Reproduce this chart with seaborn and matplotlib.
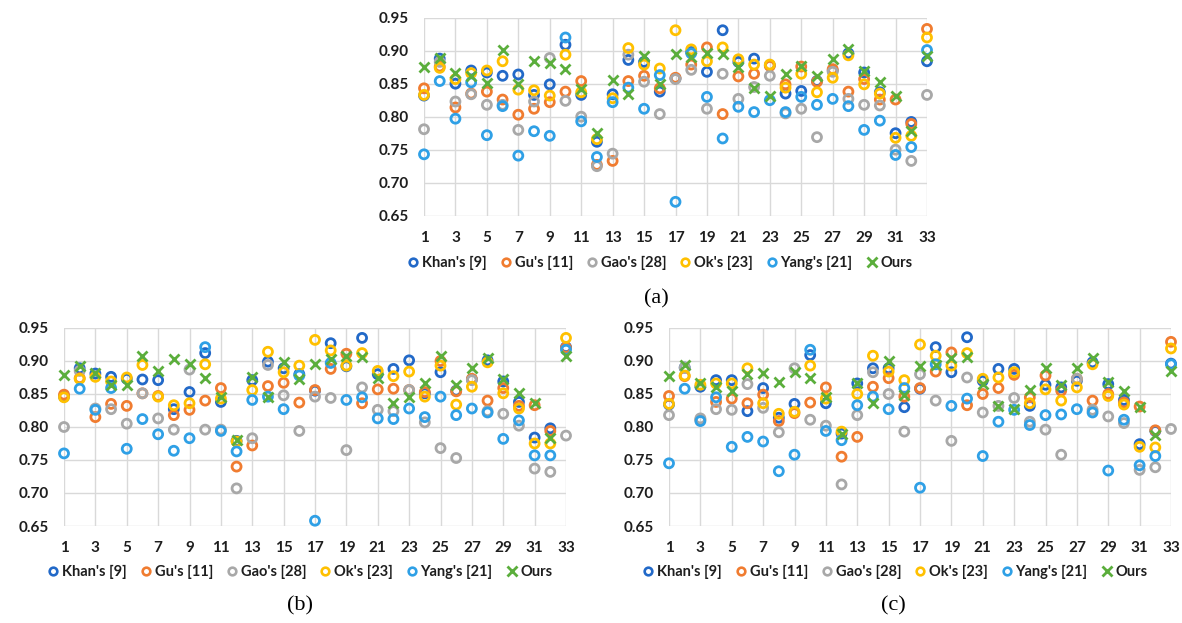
import matplotlib
matplotlib.use('Agg')

import numpy as np
import pandas as pd
import matplotlib.pyplot as plt
import seaborn as sns
from matplotlib.lines import Line2D
from matplotlib.ticker import FormatStrFormatter

images = list(range(1, 34))
methods = ["Khan's [9]", "Gu's [11]", "Gao's [28]", "Ok's [23]", "Yang's [21]", "Ours"]
colors = ['#2269C8', '#F07C30', '#A8A8A8', '#FFC000', '#2FA0E6', '#5BAE3C']

# panel (a)
khan_a = [0.832, 0.888, 0.850, 0.870, 0.867, 0.862, 0.864, 0.833, 0.849, 0.909, 0.833, 0.762, 0.834, 0.886, 0.883, 0.838, 0.858,
          0.898, 0.868, 0.931, 0.883, 0.888, 0.878, 0.835, 0.839, 0.854, 0.870, 0.896, 0.867, 0.837, 0.775, 0.792, 0.884]
gu_a = [0.843, 0.876, 0.814, 0.835, 0.838, 0.826, 0.803, 0.812, 0.822, 0.838, 0.854, 0.727, 0.733, 0.854, 0.862, 0.843, 0.859,
        0.879, 0.905, 0.804, 0.861, 0.865, 0.877, 0.849, 0.876, 0.853, 0.872, 0.838, 0.857, 0.826, 0.826, 0.789, 0.933]
gao_a = [0.781, 0.883, 0.823, 0.834, 0.818, 0.818, 0.780, 0.823, 0.889, 0.824, 0.800, 0.725, 0.744, 0.894, 0.853, 0.804, 0.857,
         0.871, 0.812, 0.865, 0.827, 0.845, 0.862, 0.805, 0.812, 0.769, 0.868, 0.827, 0.818, 0.817, 0.750, 0.733, 0.833]
ok_a = [0.833, 0.874, 0.857, 0.866, 0.870, 0.884, 0.841, 0.840, 0.832, 0.894, 0.837, 0.766, 0.828, 0.904, 0.879, 0.873, 0.931,
        0.902, 0.884, 0.905, 0.887, 0.879, 0.879, 0.844, 0.865, 0.837, 0.859, 0.893, 0.849, 0.835, 0.768, 0.771, 0.920]
yang_a = [0.743, 0.854, 0.797, 0.852, 0.772, 0.816, 0.741, 0.778, 0.771, 0.920, 0.793, 0.739, 0.822, 0.844, 0.812, 0.863, 0.671,
          0.896, 0.830, 0.767, 0.815, 0.807, 0.825, 0.807, 0.830, 0.818, 0.827, 0.816, 0.780, 0.794, 0.742, 0.754, 0.901]
ours_a = [0.875, 0.889, 0.866, 0.861, 0.851, 0.901, 0.850, 0.885, 0.882, 0.873, 0.842, 0.776, 0.856, 0.834, 0.892, 0.849, 0.895,
          0.891, 0.896, 0.895, 0.875, 0.843, 0.832, 0.864, 0.877, 0.862, 0.888, 0.903, 0.870, 0.853, 0.832, 0.778, 0.892]

# panel (b)
khan_b = [0.846, 0.889, 0.881, 0.876, 0.873, 0.872, 0.871, 0.827, 0.853, 0.912, 0.838, 0.779, 0.871, 0.899, 0.889, 0.880, 0.855,
          0.927, 0.892, 0.935, 0.880, 0.888, 0.901, 0.851, 0.883, 0.855, 0.872, 0.901, 0.869, 0.838, 0.784, 0.798, 0.921]
gu_b = [0.849, 0.874, 0.815, 0.835, 0.832, 0.851, 0.847, 0.818, 0.826, 0.840, 0.859, 0.740, 0.772, 0.862, 0.867, 0.837, 0.856,
        0.888, 0.911, 0.836, 0.857, 0.858, 0.856, 0.853, 0.900, 0.854, 0.873, 0.840, 0.859, 0.832, 0.833, 0.794, 0.920]
gao_b = [0.800, 0.885, 0.828, 0.827, 0.805, 0.851, 0.813, 0.796, 0.887, 0.796, 0.796, 0.707, 0.783, 0.894, 0.848, 0.794, 0.846,
         0.844, 0.765, 0.860, 0.826, 0.824, 0.856, 0.807, 0.768, 0.753, 0.871, 0.824, 0.820, 0.802, 0.737, 0.732, 0.787]
ok_b = [0.845, 0.873, 0.876, 0.869, 0.875, 0.894, 0.846, 0.833, 0.836, 0.895, 0.843, 0.778, 0.856, 0.914, 0.883, 0.893, 0.932,
        0.916, 0.893, 0.912, 0.885, 0.877, 0.884, 0.846, 0.893, 0.834, 0.861, 0.898, 0.851, 0.828, 0.775, 0.775, 0.935]
yang_b = [0.760, 0.858, 0.826, 0.859, 0.767, 0.812, 0.789, 0.764, 0.783, 0.921, 0.794, 0.763, 0.841, 0.846, 0.827, 0.878, 0.658,
          0.897, 0.841, 0.845, 0.813, 0.812, 0.828, 0.815, 0.846, 0.818, 0.828, 0.822, 0.782, 0.810, 0.757, 0.757, 0.917]
ours_b = [0.879, 0.893, 0.882, 0.864, 0.864, 0.908, 0.885, 0.903, 0.895, 0.875, 0.846, 0.780, 0.876, 0.846, 0.898, 0.873, 0.896,
          0.903, 0.907, 0.906, 0.875, 0.836, 0.845, 0.867, 0.908, 0.863, 0.889, 0.905, 0.872, 0.852, 0.837, 0.784, 0.907]

# panel (c)
khan_c = [0.834, 0.890, 0.861, 0.871, 0.871, 0.824, 0.859, 0.814, 0.835, 0.909, 0.836, 0.790, 0.866, 0.889, 0.889, 0.830, 0.858,
          0.921, 0.883, 0.936, 0.870, 0.888, 0.888, 0.832, 0.864, 0.860, 0.870, 0.898, 0.865, 0.841, 0.774, 0.794, 0.896]
gu_c = [0.847, 0.877, 0.811, 0.838, 0.843, 0.836, 0.849, 0.809, 0.821, 0.837, 0.860, 0.755, 0.785, 0.861, 0.874, 0.846, 0.859,
        0.884, 0.913, 0.833, 0.850, 0.859, 0.879, 0.845, 0.878, 0.855, 0.873, 0.840, 0.850, 0.837, 0.831, 0.795, 0.929]
gao_c = [0.818, 0.890, 0.813, 0.827, 0.826, 0.865, 0.829, 0.792, 0.889, 0.811, 0.802, 0.713, 0.818, 0.883, 0.850, 0.793, 0.880,
         0.840, 0.779, 0.875, 0.822, 0.832, 0.844, 0.808, 0.796, 0.758, 0.873, 0.826, 0.816, 0.806, 0.735, 0.739, 0.797]
ok_c = [0.835, 0.878, 0.864, 0.866, 0.866, 0.889, 0.836, 0.820, 0.823, 0.893, 0.843, 0.793, 0.850, 0.908, 0.884, 0.871, 0.925,
        0.908, 0.893, 0.912, 0.873, 0.875, 0.883, 0.836, 0.857, 0.840, 0.860, 0.895, 0.847, 0.834, 0.770, 0.769, 0.919]
yang_c = [0.745, 0.858, 0.809, 0.845, 0.770, 0.785, 0.778, 0.733, 0.758, 0.917, 0.794, 0.780, 0.833, 0.846, 0.827, 0.859, 0.708,
          0.895, 0.832, 0.843, 0.756, 0.808, 0.826, 0.803, 0.818, 0.819, 0.827, 0.822, 0.734, 0.811, 0.742, 0.756, 0.895]
ours_c = [0.877, 0.894, 0.867, 0.861, 0.855, 0.880, 0.882, 0.868, 0.883, 0.874, 0.845, 0.790, 0.866, 0.836, 0.900, 0.849, 0.892,
          0.894, 0.904, 0.906, 0.865, 0.832, 0.827, 0.856, 0.890, 0.863, 0.890, 0.905, 0.868, 0.854, 0.831, 0.788, 0.885]

panels = {
    '(a)': [khan_a, gu_a, gao_a, ok_a, yang_a, ours_a],
    '(b)': [khan_b, gu_b, gao_b, ok_b, yang_b, ours_b],
    '(c)': [khan_c, gu_c, gao_c, ok_c, yang_c, ours_c],
}

sns.set_style('white')
plt.rcParams['font.family'] = ['Lato', 'DejaVu Sans']
plt.rcParams['font.weight'] = 'bold'

W, H = 1182, 623
fig = plt.figure(figsize=(W / 100, H / 100), dpi=100)


def add_ax(x0, x1, y0, y1):
    # pixel box -> figure fraction
    return fig.add_axes([x0 / W, 1 - y1 / H, (x1 - x0) / W, (y1 - y0) / H])


def draw_panel(ax, series, tag, legend_x, legend_y, tag_x, tag_y):
    df = pd.DataFrame({
        'image': images * len(methods),
        'score': np.concatenate(series),
        'method': np.repeat(methods, len(images)),
    })
    for i, (m, c) in enumerate(zip(methods, colors)):
        d = df[df['method'] == m]
        if m == 'Ours':
            sns.scatterplot(data=d, x='image', y='score', ax=ax, marker='x', color=c,
                            s=52, linewidth=2.0, clip_on=False, zorder=3 + i)
        else:
            sns.scatterplot(data=d, x='image', y='score', ax=ax, marker='o', color=c,
                            facecolor='none', edgecolor=c, s=42, linewidth=2.0,
                            clip_on=False, zorder=3 + i)

    ax.set_xlim(1, 33)
    ax.set_ylim(0.65, 0.95)
    ax.set_xticks(range(1, 34, 2))
    ax.set_yticks(np.arange(0.65, 0.951, 0.05))
    ax.yaxis.set_major_formatter(FormatStrFormatter('%.2f'))
    ax.grid(True, color='#D9D9D9', linewidth=1)
    ax.set_axisbelow(True)
    for s in ax.spines.values():
        s.set_visible(False)
    ax.tick_params(length=0, labelsize=11, colors='#1E1E1E')
    ax.tick_params(axis='x', pad=11)
    ax.tick_params(axis='y', pad=11)
    ax.set_xlabel('')
    ax.set_ylabel('')

    handles = []
    for m, c in zip(methods, colors):
        if m == 'Ours':
            handles.append(Line2D([], [], ls='none', marker='x', color=c, ms=6.5, mew=2.0))
        else:
            handles.append(Line2D([], [], ls='none', marker='o', mfc='none', mec=c, ms=5.5, mew=1.9))
    fig.legend(handles, methods, loc='center', bbox_to_anchor=(legend_x / W, 1 - legend_y / H),
               ncol=6, frameon=False, handlelength=0.8, handletextpad=0.2, columnspacing=0.9,
               prop={'size': 10.5, 'weight': 'bold'}, labelcolor='#1E1E1E')
    fig.text(tag_x / W, 1 - tag_y / H, tag, ha='center', va='center', fontsize=16,
             family='Liberation Serif', weight='normal', color='black')


ax_a = add_ax(424, 927, 17.7, 215.7)
ax_b = add_ax(64, 566, 328, 526)
ax_c = add_ax(669, 1171, 328, 526)

draw_panel(ax_a, panels['(a)'], '(a)', 660, 263, 656, 299)
draw_panel(ax_b, panels['(b)'], '(b)', 300, 572, 300, 606)
draw_panel(ax_c, panels['(c)'], '(c)', 895, 572, 893, 606)

fig.savefig('out.png', dpi=100)
